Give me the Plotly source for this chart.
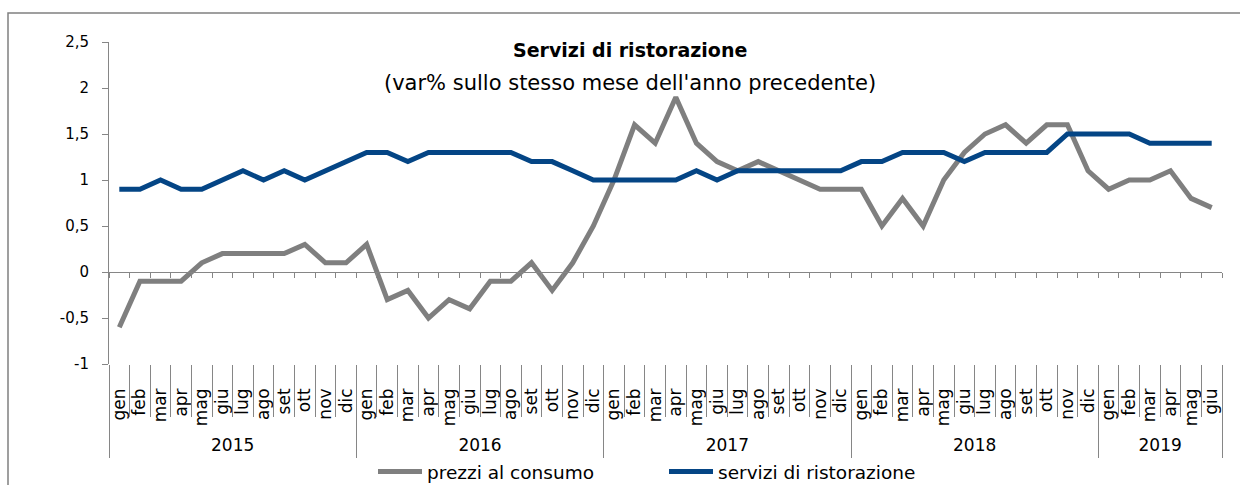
import plotly.graph_objects as go

# ---------------- data ----------------
years = ["2015", "2016", "2017", "2018", "2019"]
months_per_year = [12, 12, 12, 12, 6]
month_names = ["gen", "feb", "mar", "apr", "mag", "giu", "lug", "ago", "set", "ott", "nov", "dic"]

prezzi_al_consumo = [
    -0.6, -0.1, -0.1, -0.1, 0.1, 0.2, 0.2, 0.2, 0.2, 0.3, 0.1, 0.1,      # 2015
    0.3, -0.3, -0.2, -0.5, -0.3, -0.4, -0.1, -0.1, 0.1, -0.2, 0.1, 0.5,   # 2016
    1.0, 1.6, 1.4, 1.9, 1.4, 1.2, 1.1, 1.2, 1.1, 1.0, 0.9, 0.9,          # 2017
    0.9, 0.5, 0.8, 0.5, 1.0, 1.3, 1.5, 1.6, 1.4, 1.6, 1.6, 1.1,          # 2018
    0.9, 1.0, 1.0, 1.1, 0.8, 0.7,                                        # 2019
]
servizi_di_ristorazione = [
    0.9, 0.9, 1.0, 0.9, 0.9, 1.0, 1.1, 1.0, 1.1, 1.0, 1.1, 1.2,          # 2015
    1.3, 1.3, 1.2, 1.3, 1.3, 1.3, 1.3, 1.3, 1.2, 1.2, 1.1, 1.0,          # 2016
    1.0, 1.0, 1.0, 1.0, 1.1, 1.0, 1.1, 1.1, 1.1, 1.1, 1.1, 1.1,          # 2017
    1.2, 1.2, 1.3, 1.3, 1.3, 1.2, 1.3, 1.3, 1.3, 1.3, 1.5, 1.5,          # 2018
    1.5, 1.5, 1.4, 1.4, 1.4, 1.4,                                        # 2019
]
y_tick_values = [-1, -0.5, 0, 0.5, 1, 1.5, 2, 2.5]
y_tick_labels = ["-1", "-0,5", "0", "0,5", "1", "1,5", "2", "2,5"]

title_text = "<b>Servizi di ristorazione</b>"
subtitle_text = "(var% sullo stesso mese dell'anno precedente)"
series_names = ["prezzi al consumo", "servizi di ristorazione"]

# ---------------- derived category structure ----------------
month_labels = []
for n in months_per_year:
    month_labels += month_names[:n]
n_points = len(month_labels)
idx = list(range(n_points))
boundaries = [i - 0.5 for i in range(n_points + 1)]
year_starts = [sum(months_per_year[:k]) for k in range(len(years))]
year_centers = [s + (n - 1) / 2 for s, n in zip(year_starts, months_per_year)]
year_bounds = [s - 0.5 for s in year_starts] + [n_points - 0.5]
xr = [-0.5, n_points - 0.5]

# ---------------- style ----------------
FONT = "DejaVu Sans"
GRAY = "#7f7f7f"
BLUE = "#044585"
AXC = "#868686"
W, H = 1240, 485
ML, MR, MT, MB = 109, 18, 42, 121
PW, PH = W - ML - MR, H - MT - MB


def px_x(p):
    return (p - ML) / PW


def px_y(p):
    return (H - MB - p) / PH


fig = go.Figure()
fig.add_trace(go.Scatter(x=idx, y=prezzi_al_consumo, mode="lines", name=series_names[0],
                         line=dict(color=GRAY, width=5)))
fig.add_trace(go.Scatter(x=idx, y=servizi_di_ristorazione, mode="lines", name=series_names[1],
                         line=dict(color=BLUE, width=5)))
# anchor traces so that overlay axes exist
for ax in ["x2", "x3", "x4", "x5", "x6"]:
    fig.add_trace(go.Scatter(x=[None], y=[None], xaxis=ax, yaxis="y", showlegend=False,
                             hoverinfo="skip"))

base_x = dict(range=xr, showgrid=False, zeroline=False, fixedrange=True, automargin=False)
fig.update_layout(
    width=W, height=H,
    margin=dict(l=ML, r=MR, t=MT, b=MB, pad=0, autoexpand=False),
    paper_bgcolor="white", plot_bgcolor="white",
    font=dict(family=FONT, color="black", size=15),
    xaxis=dict(**base_x, visible=False),
    # month labels
    xaxis2=dict(**base_x, overlaying="x", anchor="y", side="bottom", showline=False,
                tickmode="array", tickvals=idx, ticktext=month_labels, tickangle=-90,
                ticks="", tickfont=dict(size=17, family=FONT), ticklabelstandoff=20),
    # month separators
    xaxis3=dict(**base_x, overlaying="x", anchor="y", side="bottom", showline=False,
                tickmode="array", tickvals=boundaries, ticks="outside", ticklen=52,
                tickcolor=AXC, tickwidth=1, showticklabels=False),
    # year labels
    xaxis4=dict(**base_x, overlaying="x", anchor="y", side="bottom", showline=False,
                tickmode="array", tickvals=year_centers, ticktext=years, ticks="",
                tickfont=dict(size=17, family=FONT), ticklabelstandoff=69),
    # year dividers
    xaxis5=dict(**base_x, overlaying="x", anchor="y", side="bottom", showline=False,
                tickmode="array", tickvals=year_bounds, ticks="outside", ticklen=93,
                tickcolor=AXC, tickwidth=1, showticklabels=False),
    # zero line with category ticks
    xaxis6=dict(**base_x, overlaying="x", anchor="free", position=1 / 3.5, side="bottom",
                showline=True, linecolor=AXC, linewidth=1,
                tickmode="array", tickvals=boundaries, ticks="outside", ticklen=5,
                tickcolor=AXC, tickwidth=1, showticklabels=False),
    yaxis=dict(range=[-1, 2.5], showgrid=False, zeroline=False, showline=True,
               linecolor=AXC, linewidth=1, ticks="outside", ticklen=6, tickcolor=AXC,
               tickmode="array", tickvals=y_tick_values, ticktext=y_tick_labels,
               tickfont=dict(size=15, family=FONT), ticklabelstandoff=10, fixedrange=True,
               automargin=False),
    showlegend=True,
    legend=dict(orientation="h", xref="container", yref="container",
                x=373 / W, xanchor="left", y=1 - 472 / H, yanchor="middle",
                font=dict(size=18.5, family=FONT), itemwidth=44, entrywidth=232,
                entrywidthmode="pixels", bgcolor="rgba(0,0,0,0)", traceorder="normal"),
    annotations=[
        dict(text=title_text, x=px_x(630), y=px_y(50), xref="paper", yref="paper",
             showarrow=False, xanchor="center", yanchor="middle",
             font=dict(size=19, family=FONT)),
        dict(text=subtitle_text, x=px_x(630), y=px_y(83), xref="paper", yref="paper",
             showarrow=False, xanchor="center", yanchor="middle",
             font=dict(size=21, family=FONT)),
    ],
    shapes=[
        dict(type="rect", xref="paper", yref="paper", x0=px_x(8), x1=px_x(1260),
             y0=px_y(520), y1=px_y(13), line=dict(color="#808080", width=1.5),
             fillcolor="rgba(0,0,0,0)", layer="below"),
    ],
)

fig.write_html("out.html")
